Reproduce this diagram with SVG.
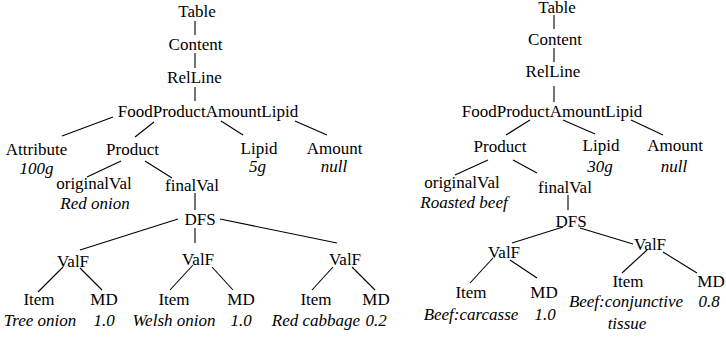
<svg xmlns="http://www.w3.org/2000/svg" width="726" height="339" viewBox="0 0 726 339" font-family="'Liberation Serif', 'Times New Roman', Times, 'DejaVu Serif', serif">
<style>
text{font-family:'Liberation Serif','Times New Roman',Times,'DejaVu Serif',serif;font-size:17px;fill:#000;text-anchor:middle}
.v{font-style:italic}
#connectors line{stroke:#000;stroke-width:1.1}
</style>
<rect width="726" height="339" fill="#fff"/>
<g id="connectors">
<line x1="195" y1="21" x2="195" y2="35"/>
<line x1="195" y1="53" x2="195" y2="68"/>
<line x1="195" y1="87" x2="195" y2="101"/>
<line x1="113" y1="117" x2="62" y2="136"/>
<line x1="154" y1="122" x2="135" y2="137"/>
<line x1="221" y1="121" x2="243" y2="135"/>
<line x1="295" y1="121" x2="327" y2="135"/>
<line x1="121" y1="161" x2="87" y2="177"/>
<line x1="145" y1="161" x2="172" y2="178"/>
<line x1="195" y1="193" x2="195" y2="210"/>
<line x1="178" y1="219" x2="80" y2="250"/>
<line x1="195" y1="228" x2="195" y2="243"/>
<line x1="220" y1="219" x2="337" y2="243"/>
<line x1="63" y1="267" x2="38" y2="292"/>
<line x1="80" y1="268" x2="102" y2="290"/>
<line x1="193" y1="265" x2="170" y2="290"/>
<line x1="212" y1="267" x2="233" y2="290"/>
<line x1="333" y1="267" x2="312" y2="290"/>
<line x1="352" y1="267" x2="375" y2="290"/>
<line x1="554" y1="15" x2="554" y2="29"/>
<line x1="554" y1="48" x2="554" y2="62"/>
<line x1="554" y1="86" x2="554" y2="102"/>
<line x1="530" y1="120" x2="506" y2="135"/>
<line x1="563" y1="120" x2="595" y2="134"/>
<line x1="631" y1="120" x2="663" y2="135"/>
<line x1="488" y1="160" x2="455" y2="175"/>
<line x1="513" y1="160" x2="537" y2="173"/>
<line x1="568" y1="195" x2="568" y2="210"/>
<line x1="563" y1="227" x2="512" y2="243"/>
<line x1="580" y1="228" x2="633" y2="244"/>
<line x1="493" y1="258" x2="470" y2="283"/>
<line x1="510" y1="260" x2="537" y2="278"/>
<line x1="647" y1="250" x2="622" y2="273"/>
<line x1="663" y1="252" x2="697" y2="273"/>
</g>
<g id="L_table"><text x="197" y="17">Table</text></g>
<g id="L_content"><text x="195.5" y="50">Content</text></g>
<g id="L_relline"><text x="194.5" y="83">RelLine</text></g>
<g id="L_fpal"><text x="208" y="116.5">FoodProductAmountLipid</text></g>
<g id="L_attribute"><text x="36.5" y="155">Attribute</text><text class="v" x="36.5" y="174">100g</text></g>
<g id="L_product"><text x="132.5" y="155">Product</text></g>
<g id="L_lipid"><text x="259" y="154">Lipid</text><text class="v" x="257.5" y="172">5g</text></g>
<g id="L_amount"><text x="334.5" y="154">Amount</text><text class="v" x="334" y="172">null</text></g>
<g id="L_originalVal"><text x="94" y="189">originalVal</text><text class="v" x="95" y="209">Red onion</text></g>
<g id="L_finalVal"><text x="192" y="191">finalVal</text></g>
<g id="L_dfs"><text x="200" y="225">DFS</text></g>
<g id="L_valf1"><text x="73" y="267">ValF</text></g>
<g id="L_valf2"><text x="198" y="265">ValF</text></g>
<g id="L_valf3"><text x="345" y="265">ValF</text></g>
<g id="L_item1"><text x="39" y="305">Item</text><text class="v" x="40" y="325.5">Tree onion</text></g>
<g id="L_md1"><text x="104" y="305">MD</text><text class="v" x="104" y="325.5">1.0</text></g>
<g id="L_item2"><text x="174" y="305">Item</text><text class="v" x="174" y="325.5">Welsh onion</text></g>
<g id="L_md2"><text x="241" y="305">MD</text><text class="v" x="241" y="325.5">1.0</text></g>
<g id="L_item3"><text x="316" y="305">Item</text><text class="v" x="316" y="325.5">Red cabbage</text></g>
<g id="L_md3"><text x="376" y="305">MD</text><text class="v" x="376" y="325.5">0.2</text></g>
<g id="R_table"><text x="557" y="13">Table</text></g>
<g id="R_content"><text x="555" y="45">Content</text></g>
<g id="R_relline"><text x="553" y="77">RelLine</text></g>
<g id="R_fpal"><text x="552" y="116.5">FoodProductAmountLipid</text></g>
<g id="R_product"><text x="500" y="151.5">Product</text></g>
<g id="R_lipid"><text x="601" y="151">Lipid</text><text class="v" x="600" y="172">30g</text></g>
<g id="R_amount"><text x="675" y="151">Amount</text><text class="v" x="674" y="172">null</text></g>
<g id="R_originalVal"><text x="462" y="188">originalVal</text><text class="v" x="464" y="208">Roasted beef</text></g>
<g id="R_finalVal"><text x="565" y="193">finalVal</text></g>
<g id="R_dfs"><text x="571" y="227">DFS</text></g>
<g id="R_valf1"><text x="504" y="258">ValF</text></g>
<g id="R_valf2"><text x="650" y="250">ValF</text></g>
<g id="R_item1"><text x="471" y="298">Item</text><text class="v" x="471" y="320">Beef:carcasse</text></g>
<g id="R_md1"><text x="544" y="298">MD</text><text class="v" x="545" y="320">1.0</text></g>
<g id="R_item2"><text x="628" y="287">Item</text><text class="v" x="626" y="307">Beef:conjunctive</text><text class="v" x="627" y="329">tissue</text></g>
<g id="R_md2"><text x="711" y="287">MD</text><text class="v" x="709" y="307">0.8</text></g>
</svg>
